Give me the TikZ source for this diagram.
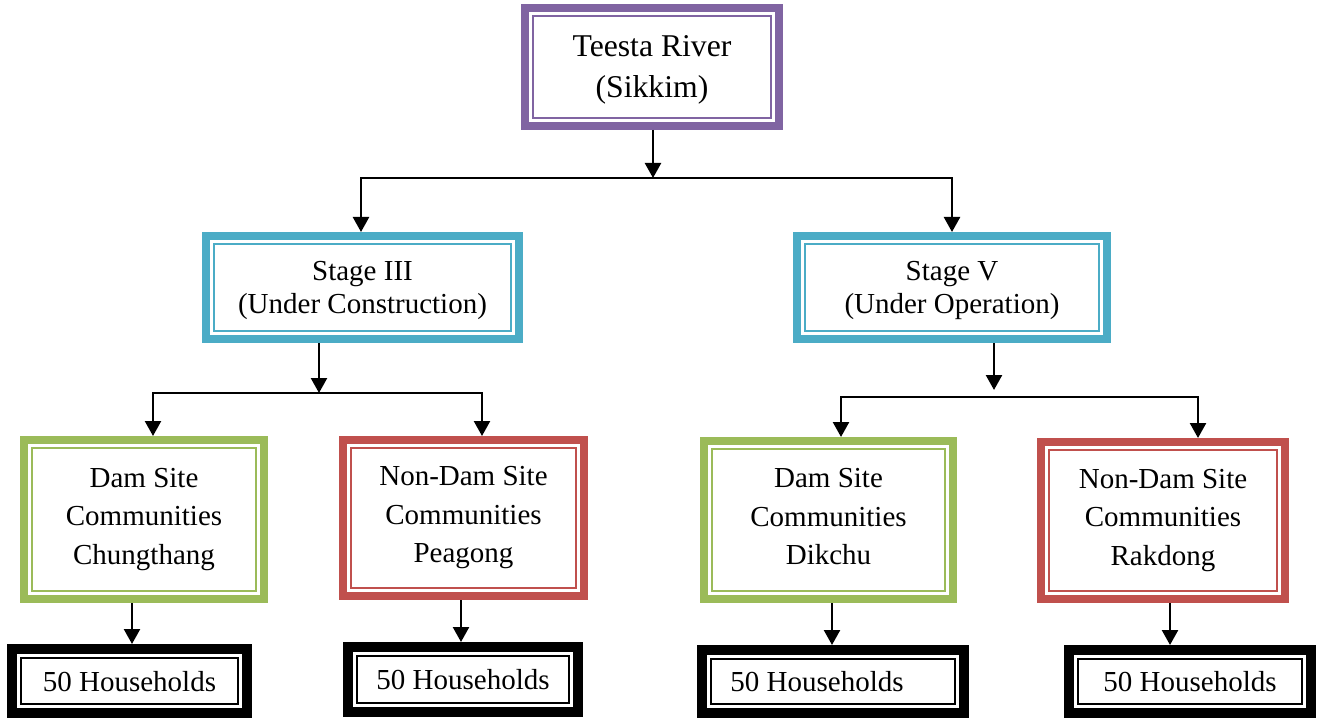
\documentclass[tikz,border=0pt]{standalone}
\usepackage{fontspec}
\setmainfont{Liberation Serif}
\usetikzlibrary{arrows.meta}
\definecolor{vpurple}{HTML}{8064A2}
\definecolor{vteal}{HTML}{4BACC6}
\definecolor{vgreen}{HTML}{9BBB59}
\definecolor{vred}{HTML}{C0504D}
\tikzset{
  box/.style={draw=#1, line width=8pt, rectangle, align=center, inner sep=0pt},
  hbox/.style={draw=black, line width=10pt, rectangle, align=center, inner sep=0pt,
    font=\fontsize{29}{34}\selectfont, text depth=-7pt},
  topfont/.style={font=\fontsize{31.7}{41}\selectfont, text depth=-1pt},
  stagefont/.style={font=\fontsize{29}{33}\selectfont, text depth=-2pt},
  comfont/.style={font=\fontsize{29}{38.5}\selectfont},
  tip/.style={Triangle[width=16pt,length=15pt]},
  arr/.style={line width=2.4pt, line join=miter, -{Triangle[width=16pt,length=15pt]}},
  arrboth/.style={line width=2.4pt, line join=miter, {Triangle[width=16pt,length=15pt]}-{Triangle[width=16pt,length=15pt]}},
  innerline/.style={line width=1.6pt, draw=#1}
}
\begin{document}
\begin{tikzpicture}[x=1pt,y=-1pt]
\useasboundingbox (0,0) rectangle (1317,719);
% nodes
\node[box=vpurple, topfont, minimum width=254pt, minimum height=118pt] (top) at (652,67) {Teesta River\\(Sikkim)};
\node[box=vteal, stagefont, minimum width=313pt, minimum height=103pt] (s3) at (362.5,287.5) {Stage III\\(Under Construction)};
\node[box=vteal, stagefont, minimum width=310pt, minimum height=103pt] (s5) at (952,287.5) {Stage V\\(Under Operation)};
\node[box=vgreen, comfont, minimum width=240pt, minimum height=159pt] (c1) at (144,519.5) {Dam Site\\Communities\\Chungthang};
\node[box=vred, comfont, minimum width=241pt, minimum height=156pt] (c2) at (463.5,518) {Non-Dam Site\\Communities\\Peagong};
\node[box=vgreen, comfont, text depth=6.5pt, minimum width=249pt, minimum height=158pt] (c3) at (828.5,520) {Dam Site\\Communities\\Dikchu};
\node[box=vred, comfont, minimum width=244pt, minimum height=157pt] (c4) at (1163,520.5) {Non-Dam Site\\Communities\\Rakdong};
\node[hbox, minimum width=235pt, minimum height=64pt] (h1) at (129.5,681) {50 Households};
\node[hbox, minimum width=230pt, minimum height=65pt] (h2) at (463,679.5) {50 Households};
\node[hbox, minimum width=262pt, minimum height=63pt] (h3) at (833,681.5) {50 Households\hspace*{32pt}};
\node[hbox, minimum width=242pt, minimum height=63pt] (h4) at (1190,681.5) {50 Households};
% inner thin borders
\foreach \n/\c/\o in {top/vpurple/12, s3/vteal/12, s5/vteal/12, c1/vgreen/12, c2/vred/12, c3/vgreen/12, c4/vred/12, h1/black/14, h2/black/14, h3/black/14, h4/black/14}
  \draw[innerline=\c] ([shift={(\o,\o)}]\n.north west) rectangle ([shift={(-\o,-\o)}]\n.south east);
% connectors level 1
\coordinate (j0) at (653,178);
\draw[arr] (top.south -| j0) -- (j0);
\path ([xshift=-1.5]s3.north) coordinate (b3);
\draw[arrboth] (b3) |- (j0) -| (s5.north);
% stage III
\coordinate (j3) at (319,393);
\draw[arr] (s3.south -| j3) -- (j3);
\path ([xshift=9]c1.north) coordinate (b1);
\path ([xshift=18.5]c2.north) coordinate (b2);
\draw[arrboth] (b1) |- (j3) -| (b2);
% stage V
\coordinate (j5) at (994,397);
\coordinate (j5a) at (994,390);
\draw[arr] (s5.south -| j5a) -- (j5a);
\path ([xshift=12.5]c3.north) coordinate (b3c);
\path ([xshift=35]c4.north) coordinate (b4c);
\draw[arrboth] (b3c) |- (j5) -| (b4c);
% bottom arrows
\path ([xshift=-12]c1.south) coordinate (a1);
\path ([xshift=-2.5]c2.south) coordinate (a2);
\path ([xshift=3.5]c3.south) coordinate (a3);
\path ([xshift=7]c4.south) coordinate (a4);
\draw[arr] (a1) -- (a1 |- h1.north);
\draw[arr] (a2) -- (a2 |- h2.north);
\draw[arr] (a3) -- (a3 |- h3.north);
\draw[arr] (a4) -- (a4 |- h4.north);
\end{tikzpicture}
\end{document}
